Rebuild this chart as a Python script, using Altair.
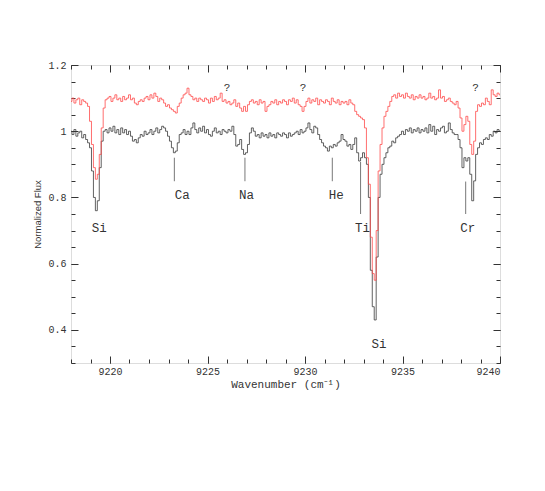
import altair as alt
import pandas as pd
import numpy as np

# Wavenumber grid (cm^-1), 0.1 spacing from 9218.0 to 9240.0
WN_START = 9218.0
WN_STEP = 0.1

# Lower (black) spectrum
flux_black = [
    1.00, 0.99, 1.005, 0.985, 0.995, 1.00, 0.98, 0.99, 0.975, 0.965,
    0.95, 0.88, 0.80, 0.76, 0.79, 0.89, 0.97, 1.00, 1.005, 0.995,
    1.01, 1.00, 1.015, 0.995, 1.005, 0.99, 1.01, 0.995, 1.005, 0.99,
    1.00, 0.985, 0.97, 0.975, 0.965, 0.98, 0.99, 0.985, 1.00, 0.99,
    0.995, 1.005, 0.99, 1.00, 1.01, 0.995, 1.005, 1.015, 1.01, 1.00,
    0.985, 0.97, 0.95, 0.935, 0.94, 0.965, 0.99, 0.995, 1.005, 0.99,
    1.00, 0.99, 1.01, 1.025, 1.005, 0.995, 1.01, 1.00, 1.015, 0.995,
    1.005, 0.99, 0.985, 1.00, 1.01, 0.995, 1.00, 0.99, 1.005, 1.00,
    0.995, 1.005, 1.00, 1.015, 0.99, 0.955, 0.96, 0.975, 0.945, 0.93,
    0.935, 0.96, 0.995, 1.01, 1.00, 0.985, 0.99, 0.98, 0.995, 0.985,
    0.99, 0.98, 0.995, 0.985, 0.99, 0.98, 0.995, 0.99, 0.985, 0.995,
    0.99, 0.98, 0.995, 0.985, 0.99, 0.995, 1.00, 0.99, 1.005, 0.995,
    1.00, 1.01, 1.025, 1.005, 0.995, 1.015, 1.01, 0.99, 0.975, 0.965,
    0.955, 0.95, 0.94, 0.955, 0.95, 0.96, 0.955, 0.965, 0.97, 0.99,
    0.975, 0.97, 0.955, 0.96, 0.945, 0.96, 0.98, 0.935, 0.91, 0.92,
    0.935, 0.92, 0.90, 0.80, 0.58, 0.47, 0.43, 0.62, 0.80, 0.87,
    0.90, 0.92, 0.935, 0.95, 0.955, 0.97, 0.965, 0.98, 0.985, 0.99,
    1.00, 0.99, 1.005, 1.00, 1.01, 0.995, 1.005, 1.00, 1.01, 0.995,
    1.005, 1.00, 1.01, 0.995, 1.02, 1.00, 1.015, 0.99, 1.005, 1.00,
    1.01, 1.015, 0.995, 1.00, 1.025, 1.005, 0.995, 0.99, 0.99, 0.975,
    0.95, 0.89, 0.92, 0.91, 0.92, 0.87, 0.79, 0.85, 0.93, 0.95,
    0.965, 0.96, 0.975, 0.98, 0.975, 0.99, 0.985, 1.00, 0.995, 1.005,
    1.00,
]

# Upper (red) spectrum
flux_red = [
    1.09, 1.10, 1.085, 1.095, 1.10, 1.08, 1.095, 1.09, 1.085, 1.075,
    1.03, 0.96, 0.89, 0.855, 0.87, 0.93, 1.01, 1.07, 1.095, 1.10,
    1.105, 1.09, 1.10, 1.11, 1.095, 1.10, 1.09, 1.105, 1.095, 1.10,
    1.11, 1.095, 1.10, 1.085, 1.08, 1.09, 1.095, 1.09, 1.10, 1.105,
    1.095, 1.11, 1.10, 1.115, 1.105, 1.09, 1.10, 1.095, 1.085, 1.075,
    1.08, 1.07, 1.065, 1.06, 1.055, 1.075, 1.085, 1.10, 1.11, 1.115,
    1.13, 1.11, 1.105, 1.095, 1.10, 1.09, 1.10, 1.095, 1.09, 1.10,
    1.095, 1.085, 1.10, 1.09, 1.105, 1.095, 1.10, 1.115, 1.09, 1.095,
    1.085, 1.09, 1.08, 1.085, 1.095, 1.075, 1.085, 1.07, 1.06, 1.075,
    1.06, 1.08, 1.09, 1.095, 1.085, 1.09, 1.08, 1.095, 1.085, 1.09,
    1.06, 1.075, 1.08, 1.09, 1.085, 1.095, 1.08, 1.09, 1.085, 1.095,
    1.09, 1.08, 1.095, 1.09, 1.10, 1.085, 1.095, 1.08, 1.075, 1.06,
    1.075, 1.09, 1.10, 1.085, 1.095, 1.09, 1.10, 1.08, 1.095, 1.09,
    1.085, 1.095, 1.09, 1.08, 1.10, 1.09, 1.085, 1.095, 1.08, 1.09,
    1.085, 1.09, 1.08, 1.095, 1.085, 1.08, 1.06, 1.05, 1.045, 1.04,
    1.035, 1.01, 0.92, 0.84, 0.68, 0.57, 0.55, 0.70, 0.88, 0.96,
    1.01, 1.045, 1.06, 1.075, 1.09, 1.105, 1.11, 1.10, 1.115, 1.105,
    1.11, 1.10, 1.115, 1.105, 1.10, 1.11, 1.095, 1.105, 1.10, 1.11,
    1.10, 1.105, 1.095, 1.10, 1.115, 1.10, 1.105, 1.095, 1.10, 1.125,
    1.10, 1.105, 1.09, 1.095, 1.10, 1.09, 1.085, 1.08, 1.09, 1.07,
    1.04, 1.00, 1.02, 1.045, 1.03, 0.96, 0.93, 0.97, 1.06, 1.08,
    1.075, 1.085, 1.08, 1.10, 1.09, 1.08, 1.125, 1.11, 1.105, 1.115,
    1.11,
]

# Line identifications
id_labels = ["Si", "Ca", "Na", "He", "Ti", "Si", "Cr"]
id_label_x = [9219.45, 9223.7, 9227.0, 9231.6, 9232.95, 9233.8, 9238.35]
id_label_y = [0.707, 0.807, 0.807, 0.807, 0.707, 0.357, 0.707]

marker_x = [9223.3, 9226.92, 9231.4, 9232.85, 9238.24]
marker_y_top = [0.92, 0.92, 0.92, 0.907, 0.848]
marker_y_bottom = [0.849, 0.849, 0.849, 0.75, 0.75]

q_labels = ["?", "?", "?"]
q_x = [9226.0, 9229.9, 9238.75]
q_y = [1.13, 1.13, 1.13]

# Axis tick values
x_major = [9220, 9225, 9230, 9235, 9240]
x_minor = list(range(9218, 9241))
y_major = [0.4, 0.6, 0.8, 1.0, 1.2]
y_minor = [round(0.3 + 0.05 * i, 2) for i in range(19)]

n = len(flux_black)
wn = np.round(WN_START + WN_STEP * np.arange(n), 2)
df_black = pd.DataFrame({"wn": wn, "flux": flux_black})
df_red = pd.DataFrame({"wn": wn, "flux": flux_red})
df_lab = pd.DataFrame({"wn": id_label_x, "flux": id_label_y, "label": id_labels})
df_mark = pd.DataFrame({"wn": marker_x, "flux": marker_y_top, "flux2": marker_y_bottom})
df_q = pd.DataFrame({"wn": q_x, "flux": q_y, "label": q_labels})

XS = alt.Scale(domain=[9218, 9240], nice=False, zero=False)
YS = alt.Scale(domain=[0.3, 1.2], nice=False, zero=False)
AX = "#333333"
MONO = "Liberation Mono"

def tick_axis(orient, values, size):
    return alt.Axis(orient=orient, values=values, offset=-size, tickSize=size,
                    labels=False, domain=False, grid=False, title=None,
                    tickColor=AX, tickWidth=1)

black = alt.Chart(df_black).mark_line(interpolate="step", color="#3a3a3a", strokeWidth=0.8).encode(
    x=alt.X("wn:Q", scale=XS, axis=alt.Axis(
        orient="bottom", values=x_major, offset=-7, tickSize=7, labelPadding=3,
        domain=False, grid=False, tickColor=AX, format="d",
        labelFont=MONO, labelFontSize=10, labelColor=AX,
        title="Wavenumber (cm⁻¹)", titleFont=MONO, titleFontSize=11,
        titleFontWeight="normal", titleColor=AX, titlePadding=2)),
    y=alt.Y("flux:Q", scale=YS, axis=alt.Axis(
        orient="left", values=y_major, offset=-7, tickSize=7, labelPadding=5,
        domain=False, grid=False, tickColor=AX,
        labelExpr="datum.value == 1 ? '1' : format(datum.value, '.1f')",
        labelFont=MONO, labelFontSize=10, labelColor=AX,
        title="Normalized Flux", titleFont="Liberation Sans", titleFontSize=9.5,
        titleFontWeight="normal", titleColor=AX, titlePadding=5)),
)

red = alt.Chart(df_red).mark_line(interpolate="step", color="#ff4a4a", strokeWidth=0.8).encode(
    x=alt.X("wn:Q", scale=XS, axis=tick_axis("bottom", x_minor, 4)),
    y=alt.Y("flux:Q", scale=YS, axis=tick_axis("left", y_minor, 4)),
)

marks = alt.Chart(df_mark).mark_rule(color="#555555", strokeWidth=0.8).encode(
    x=alt.X("wn:Q", scale=XS, axis=tick_axis("top", x_major, 7)),
    y=alt.Y("flux:Q", scale=YS, axis=tick_axis("right", y_major, 7)),
    y2="flux2:Q",
)

labels = alt.Chart(df_lab).mark_text(font=MONO, fontSize=12.5, color="#333333",
                                     align="center", baseline="middle").encode(
    x=alt.X("wn:Q", scale=XS, axis=tick_axis("top", x_minor, 4)),
    y=alt.Y("flux:Q", scale=YS, axis=tick_axis("right", y_minor, 4)),
    text="label:N",
)

qmarks = alt.Chart(df_q).mark_text(font=MONO, fontSize=11, color="#333333",
                                   align="center", baseline="middle").encode(
    x=alt.X("wn:Q", scale=XS, axis=None),
    y=alt.Y("flux:Q", scale=YS, axis=None),
    text="label:N",
)

chart = alt.layer(black, red, marks, labels, qmarks).resolve_axis(
    x="independent", y="independent"
).properties(
    width=429, height=298,
    autosize=alt.AutoSizeParams(type="none"),
    padding={"left": 63, "top": 57, "right": 37, "bottom": 120},
).configure_view(stroke=AX, strokeWidth=1).configure(background="white")

chart.save("out.html", embed_options={"renderer": "svg", "actions": False})
